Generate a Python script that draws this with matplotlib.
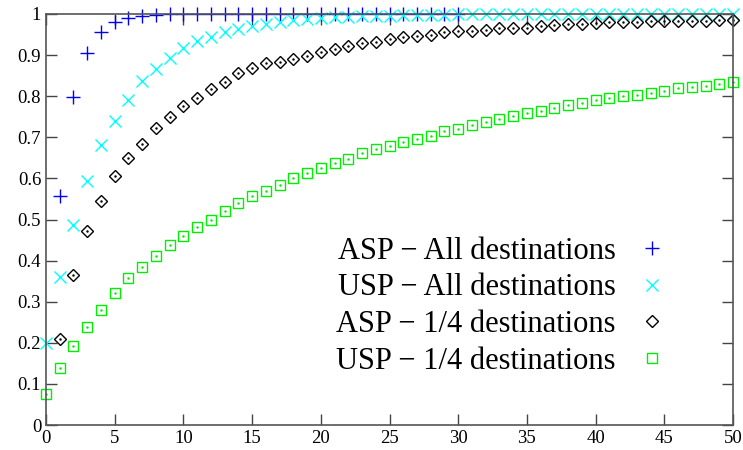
import numpy as np
import matplotlib
matplotlib.use("Agg")
from matplotlib import pyplot as plt
from matplotlib.lines import Line2D

# ASP - All destinations (x = 1..30)
asp_all_x = list(range(1, 31))
asp_all_y = [0.558, 0.799, 0.906, 0.957, 0.980, 0.991, 0.996, 0.998, 0.999, 1.0,
             1.0, 1.0, 1.0, 1.0, 1.0, 1.0, 1.0, 1.0, 1.0, 1.0,
             1.0, 1.0, 1.0, 1.0, 1.0, 1.0, 1.0, 1.0, 1.0, 1.0]

# USP - All destinations (x = 0..50)
usp_all_x = list(range(0, 51))
usp_all_y = [0.200, 0.360, 0.487, 0.593, 0.681, 0.739, 0.791, 0.837, 0.866, 0.893,
             0.917, 0.934, 0.945, 0.955, 0.963, 0.970, 0.976, 0.981, 0.985, 0.988,
             0.991, 0.992, 0.993, 0.994, 0.995, 0.996, 0.997, 0.997, 0.998, 0.998,
             0.999, 0.999, 0.999, 0.999, 1.0, 1.0, 1.0, 1.0, 1.0, 1.0,
             1.0, 1.0, 1.0, 1.0, 1.0, 1.0, 1.0, 1.0, 1.0, 1.0, 1.0]

# ASP - 1/4 destinations (x = 1..50)
asp_q_x = list(range(1, 51))
asp_q_y = [0.210, 0.364, 0.473, 0.546, 0.607, 0.649, 0.684, 0.723, 0.750, 0.776,
           0.795, 0.817, 0.835, 0.856, 0.869, 0.881, 0.884, 0.891, 0.899, 0.907,
           0.915, 0.923, 0.929, 0.933, 0.938, 0.943, 0.946, 0.950, 0.955, 0.958,
           0.958, 0.962, 0.966, 0.967, 0.967, 0.972, 0.974, 0.976, 0.976, 0.977,
           0.980, 0.981, 0.981, 0.982, 0.983, 0.983, 0.984, 0.984, 0.985, 0.985]

# USP - 1/4 destinations (x = 0..50)
usp_q_x = list(range(0, 51))
usp_q_y = [0.076, 0.138, 0.191, 0.238, 0.280, 0.320, 0.357, 0.385, 0.411, 0.438,
           0.461, 0.482, 0.500, 0.520, 0.539, 0.557, 0.570, 0.585, 0.601, 0.612,
           0.625, 0.638, 0.648, 0.663, 0.672, 0.680, 0.689, 0.697, 0.704, 0.715,
           0.721, 0.731, 0.737, 0.744, 0.752, 0.759, 0.764, 0.772, 0.779, 0.783,
           0.790, 0.795, 0.800, 0.804, 0.809, 0.812, 0.819, 0.822, 0.825, 0.830, 0.835]

labels = ["ASP \u2212 All destinations", "USP \u2212 All destinations",
          "ASP \u2212 1/4 destinations", "USP \u2212 1/4 destinations"]

plt.rcParams['font.family'] = ['Liberation Serif', 'DejaVu Serif']

fig = plt.figure(figsize=(7.43, 4.5), dpi=100)
ax = fig.add_axes([46/743, 25/450, 687/743, 411/450])

ax.plot(asp_all_x, asp_all_y, ls='none', marker='+', ms=10, mew=1.0,
        color='#0000ff', clip_on=False)
ax.plot(usp_all_x, usp_all_y, ls='none', marker='x', ms=9, mew=1.0,
        color='#00ffff', clip_on=False)
ax.plot(asp_q_x, asp_q_y, ls='none', marker='D', ms=6.5, mew=1.0,
        mfc='none', color='black', clip_on=False)
ax.plot(asp_q_x, asp_q_y, ls='none', marker='.', ms=1.5, color='black', clip_on=False)
ax.plot(usp_q_x, usp_q_y, ls='none', marker='s', ms=7.5, mew=1.0,
        mfc='none', color='#00ee00', clip_on=False)
ax.plot(usp_q_x, usp_q_y, ls='none', marker='.', ms=1.5, color='#00ee00', clip_on=False)

ax.set_xlim(0, 50)
ax.set_ylim(0, 1)
ax.set_xticks(np.arange(0, 51, 5))
ax.set_yticks(np.arange(0, 1.01, 0.1))
ax.set_yticklabels(['0', '0.1', '0.2', '0.3', '0.4', '0.5', '0.6', '0.7', '0.8', '0.9', '1'])
ax.tick_params(direction='in', length=8, width=1, top=True, right=True,
               labelsize=13.5, color='#444444')
for s in ax.spines.values():
    s.set_color('#555555')
    s.set_linewidth(1.2)

handles = [
    Line2D([], [], ls='none', marker='+', ms=10, mew=1.0, color='#0000ff'),
    Line2D([], [], ls='none', marker='x', ms=9, mew=1.0, color='#00ffff'),
    Line2D([], [], ls='none', marker='D', ms=6.5, mew=1.0, mfc='none', color='black'),
    Line2D([], [], ls='none', marker='s', ms=7.5, mew=1.0, mfc='none', color='#00ee00'),
]
ax.legend(handles, labels, loc='lower right', bbox_to_anchor=(0.905, 0.12),
          frameon=False, markerfirst=False, fontsize=22, handlelength=1.0,
          handletextpad=0.7, labelspacing=0.25, borderpad=0, borderaxespad=0)

fig.savefig('out.png', dpi=100)
